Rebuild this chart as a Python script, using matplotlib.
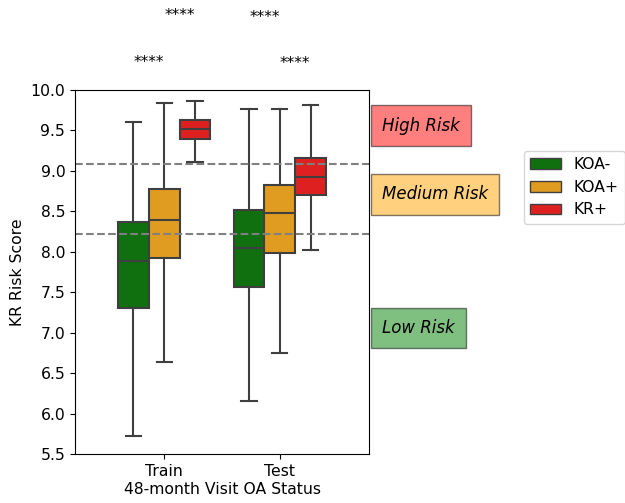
import matplotlib
matplotlib.use("Agg")
import matplotlib.pyplot as plt
from matplotlib.patches import Patch
import numpy as np

# Box statistics: order is KOA-, KOA+, KR+
SPLITS = ["Train", "Test"]
GROUPS = ["KOA-", "KOA+", "KR+"]
WHISKER_LOW = [[5.72, 6.64, 9.11], [6.16, 6.75, 8.02]]
Q1 = [[7.31, 7.92, 9.39], [7.57, 7.98, 8.70]]
MEDIAN = [[7.88, 8.39, 9.52], [8.05, 8.48, 8.93]]
Q3 = [[8.37, 8.77, 9.63], [8.52, 8.82, 9.16]]
WHISKER_HIGH = [[9.60, 9.84, 9.86], [9.77, 9.77, 9.81]]

THRESHOLDS = [9.09, 8.22]
RISK_LABELS = ["High Risk", "Medium Risk", "Low Risk"]
RISK_Y = [9.56, 8.71, 7.06]
RISK_COLORS = ["red", "orange", "green"]

# significance marks: (split index, hue pair, height)
STARS = [(0, (0, 1), 10.34), (0, (1, 2), 10.92), (1, (0, 1), 10.89), (1, (1, 2), 10.33)]

PALETTE = ["#107010", "#df9c20", "#df2020"]
EDGE = "#3f3f3f"
FS = 11.25

fig = plt.figure(figsize=(6.25, 5.03), dpi=100)
ax = fig.add_axes([0.12, 0.0974, 0.4704, 0.7237])

width = 0.8 / len(GROUPS)
offsets = (np.arange(len(GROUPS)) - (len(GROUPS) - 1) / 2) * width

for i, split in enumerate(SPLITS):
    for j, grp in enumerate(GROUPS):
        stats = [{
            "whislo": WHISKER_LOW[i][j], "q1": Q1[i][j], "med": MEDIAN[i][j],
            "q3": Q3[i][j], "whishi": WHISKER_HIGH[i][j], "fliers": [],
        }]
        ax.bxp(stats, positions=[i + offsets[j]], widths=width,
               patch_artist=True, showfliers=False, manage_ticks=False,
               boxprops=dict(facecolor=PALETTE[j], edgecolor=EDGE, linewidth=1.5),
               medianprops=dict(color=EDGE, linewidth=1.5),
               whiskerprops=dict(color=EDGE, linewidth=1.5),
               capprops=dict(color=EDGE, linewidth=1.5))

for t in THRESHOLDS:
    ax.axhline(t, color="gray", linestyle="--", linewidth=1.5)

for i, (a, b), h in STARS:
    xm = i + (offsets[a] + offsets[b]) / 2
    ax.text(xm, h, "****", ha="center", va="center", fontsize=11, clip_on=False)

for lab, y, c in zip(RISK_LABELS, RISK_Y, RISK_COLORS):
    ax.text(1.885, y, lab, fontsize=12, style="italic", va="center",
            bbox=dict(facecolor=c, alpha=0.5, pad=8))

ax.set_xlim(-0.773, 1.773)
ax.set_ylim(5.5, 10.0)
ax.set_xticks(range(len(SPLITS)))
ax.set_xticklabels(SPLITS)
ax.tick_params(labelsize=FS)
ax.set_xlabel("48-month Visit OA Status", fontsize=FS, labelpad=2)
ax.set_ylabel("KR Risk Score", fontsize=FS)

handles = [Patch(facecolor=c, edgecolor=EDGE, label=g) for c, g in zip(PALETTE, GROUPS)]
ax.legend(handles=handles, loc="upper left", bbox_to_anchor=(1.5, 0.855), fontsize=FS)

fig.savefig("out.png", dpi=100)
